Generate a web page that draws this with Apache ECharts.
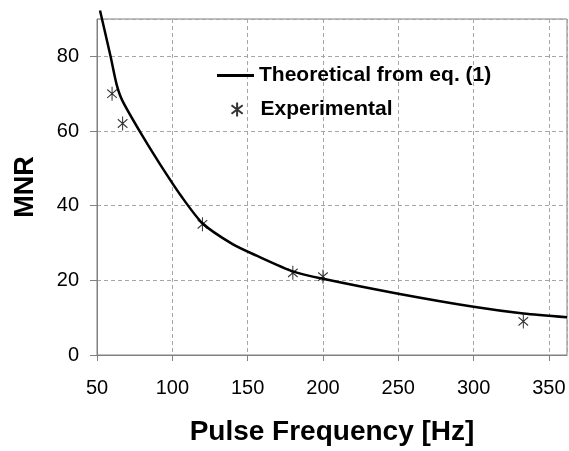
<!DOCTYPE html>
<html>
<head>
<meta charset="utf-8">
<script src="https://cdn.jsdelivr.net/npm/echarts@6/dist/echarts.min.js"></script>
<style>
  html, body {margin: 0; padding: 0; background: #fff;}
  #main {width: 569px; height: 451px;}
</style>
</head>
<body>
<div id="main"></div>
<script>
// theoretical curve [Hz, MNR]
const theoretical = [
    [52, 92.3], [59, 80], [63, 72.5], [67, 68], [80, 58.8], [92, 51],
    [106, 42.5], [120, 35.3], [140, 29.7], [156, 26.6], [180, 22.4],
    [200, 20.4], [250, 16.4], [300, 12.9], [333, 11.1], [362, 10.1]
];
// measured points
const experimental = [
    [60, 70], [67, 62], [120, 35], [180, 22], [200, 21], [333, 9]
];
const xTicks = [50, 100, 150, 200, 250, 300, 350];
const yTicks = [0, 20, 40, 60, 80];

const chartDom = document.getElementById('main');
const myChart = echarts.init(chartDom);
let option;

const axisGray = '#808080';
const star = 'path://M0,-1L0,1M-0.8,-0.6L0.8,0.6M-0.8,0.6L0.8,-0.6';
const legendText = {fontSize: 21, fontWeight: 'bold', color: '#000'};

option = {
    animation: false,
    textStyle: {fontFamily: 'Liberation Sans, Arial, sans-serif'},
    grid: {
        left: 97,
        right: 2,
        top: 19,
        bottom: 92,
        show: true,
        borderColor: axisGray,
        borderWidth: 1
    },
    legend: [
        {
            left: 217,
            top: 65,
            padding: 0,
            itemWidth: 37,
            itemHeight: 3,
            icon: 'rect',
            textStyle: legendText,
            data: ['Theoretical from eq. (1)']
        },
        {
            // legend box starts at the star itself, not at the icon slot
            left: 229,
            top: 99,
            padding: 0,
            itemWidth: 37,
            itemHeight: 14,
            textStyle: legendText,
            data: ['Experimental']
        }
    ],
    xAxis: {
        type: 'value',
        min: 50,
        max: 362,
        interval: 50,
        name: 'Pulse Frequency [Hz]',
        nameLocation: 'middle',
        nameGap: 63,
        nameTextStyle: {fontSize: 28, fontWeight: 'bold', color: '#000'},
        axisLine: {lineStyle: {color: axisGray}},
        axisTick: {show: true, length: 6, lineStyle: {color: axisGray}},
        axisLabel: {
            fontSize: 20,
            color: '#000',
            margin: 23,
            showMaxLabel: false,
            formatter: v => xTicks.includes(v) ? String(v) : ''
        },
        splitLine: {show: true, lineStyle: {color: '#a6a6a6', type: [4, 3]}}
    },
    yAxis: {
        type: 'value',
        min: 0,
        max: 90,
        interval: 20,
        name: 'MNR',
        nameLocation: 'middle',
        nameGap: 58,
        nameTextStyle: {fontSize: 27, fontWeight: 'bold', color: '#000'},
        axisLine: {show: true, lineStyle: {color: axisGray}},
        axisTick: {show: true, length: 7, lineStyle: {color: axisGray}},
        axisLabel: {
            fontSize: 20,
            color: '#000',
            margin: 18,
            showMaxLabel: false,
            formatter: v => yTicks.includes(v) ? String(v) : ''
        },
        splitLine: {show: true, lineStyle: {color: '#a6a6a6', type: [4, 3]}}
    },
    series: [
        {
            name: 'Theoretical from eq. (1)',
            type: 'line',
            data: theoretical,
            smooth: 0.25,
            symbol: 'none',
            clip: false,
            color: '#000',
            lineStyle: {color: '#000', width: 2.5},
            z: 3
        },
        {
            name: 'Experimental',
            type: 'scatter',
            data: experimental,
            symbol: star,
            symbolSize: [12, 14],
            symbolKeepAspect: true,
            itemStyle: {color: 'none', borderColor: '#000', borderWidth: 1.1},
            z: 4
        }
    ]
};

option && myChart.setOption(option);
</script>
</body>
</html>
